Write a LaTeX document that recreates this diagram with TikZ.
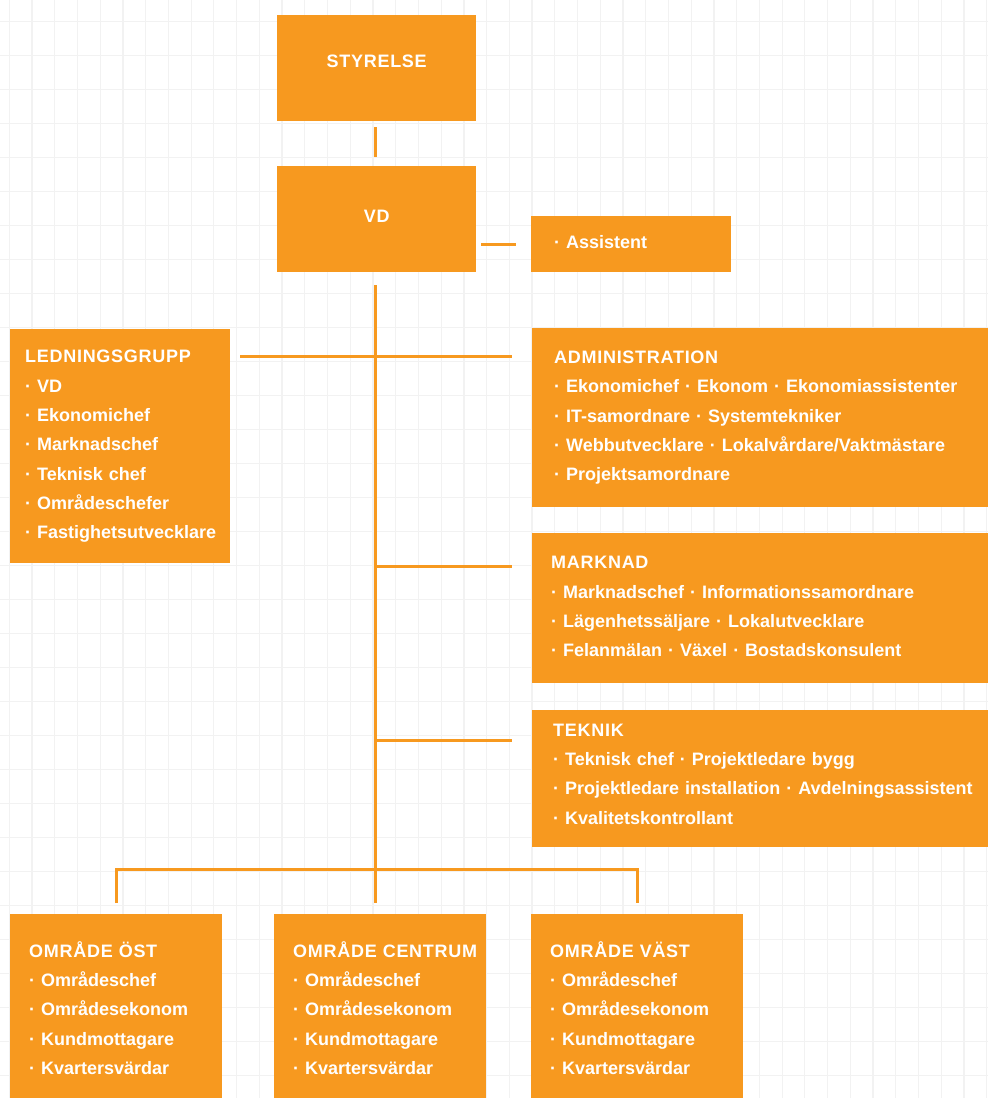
\documentclass[tikz,border=0pt]{standalone}
\usepackage{fontspec}
\setmainfont{Liberation Sans}
\newfontfamily\rubrikfont[LetterSpace=4]{Liberation Sans}
\usepackage{xcolor}
\usepackage{tikz}

\newcommand{\boxfont}{\fontsize{18}{29.3}\selectfont\bfseries\hyphenpenalty=10000\relax}
\newcommand{\rubrik}[1]{\rule[-4pt]{0pt}{17pt}\smash{\rubrikfont #1}}
\newcommand{\pkt}{\rule[-4pt]{0pt}{17pt}·~}

\begin{document}
\begin{tikzpicture}[x=1pt, y=-1pt,
  box/.style={fill=brand, text=white, anchor=north west, inner ysep=0pt, font=\boxfont},
  listbox/.style={box, align=left},
  link/.style={draw=brand, line width=3pt},
  gridline/.style={draw=rutnat, line width=1.2pt}]
% --- RUTNAT, ORANGE RUTOR OCH RAKA LINJER ---
\definecolor{brand}{HTML}{F7991F}
\definecolor{rutnat}{HTML}{F2F2F2}

\useasboundingbox (0,0) rectangle (988,1098);
\fill[white] (0,0) rectangle (988,1098);

% LAYER 1: Rutnat
\foreach \k in {0,...,43} \draw[gridline] ({9.3+22.73*\k},0) -- ({9.3+22.73*\k},1098);
\foreach \j in {0,...,31} \draw[gridline] (0,{21.7+34*\j}) -- (988,{21.7+34*\j});

% LAYER 2: Ledning
\node[box, minimum width=199, minimum height=106, text height=13pt, text depth=14pt] (styrelse) at (277,15) {\rubrik{STYRELSE}};
\node[box, minimum width=199, minimum height=106, text height=13pt, text depth=6pt] (vd) at (277,166) {\rubrik{VD}};
\node[listbox, text width=154, inner xsep=23, minimum height=56] (assistent) at (531,216) {\pkt Assistent};

% LAYER 3: Grupper och avdelningar
\node[listbox, text width=190, inner xsep=15, minimum height=234] (ledning) at (10,329) {\rubrik{LEDNINGSGRUPP}\\
  \pkt VD\\ \pkt Ekonomichef\\ \pkt Marknadschef\\ \pkt Teknisk chef\\ \pkt Områdeschefer\\ \pkt Fastighetsutvecklare};
\node[listbox, text width=500, inner xsep=22, minimum height=179] (admin) at (532,328) {\rubrik{ADMINISTRATION}\\
  \pkt Ekonomichef · Ekonom · Ekonomiassistenter\\
  \pkt IT-samordnare · Systemtekniker\\
  \pkt Webbutvecklare · Lokalvårdare/Vaktmästare\\
  \pkt Projektsamordnare};
\node[listbox, text width=500, inner xsep=19, minimum height=150] (marknad) at (532,533) {\rubrik{MARKNAD}\\
  \pkt Marknadschef · Informationssamordnare\\
  \pkt Lägenhetssäljare · Lokalutvecklare\\
  \pkt Felanmälan · Växel · Bostadskonsulent};
\node[listbox, text width=500, inner xsep=21, minimum height=137] (teknik) at (532,710) {\rubrik{TEKNIK}\\
  \pkt Teknisk chef · Projektledare bygg\\
  \pkt Projektledare installation · Avdelningsassistent\\
  \pkt Kvalitetskontrollant\rule[-10pt]{0pt}{0pt}}; % lite mer luft under

% LAYER 4: Omraden (rutorna fortsatter under kanten)
\node[listbox, text width=174, inner xsep=19, minimum height=194] (ost) at (10,914) {\rubrik{OMRÅDE ÖST}\\
  \pkt Områdeschef\\ \pkt Områdesekonom\\ \pkt Kundmottagare\\ \pkt Kvartersvärdar};
\node[listbox, text width=174, inner xsep=19, minimum height=194] (centrum) at (274,914) {\rubrik{OMRÅDE CENTRUM}\\
  \pkt Områdeschef\\ \pkt Områdesekonom\\ \pkt Kundmottagare\\ \pkt Kvartersvärdar};
\node[listbox, text width=174, inner xsep=19, minimum height=194] (vast) at (531,914) {\rubrik{OMRÅDE VÄST}\\
  \pkt Områdeschef\\ \pkt Områdesekonom\\ \pkt Kundmottagare\\ \pkt Kvartersvärdar};

% LAYER 5: Linjer med luft mot rutorna
\coordinate (stam) at (375,903); % stammens nedre ande
\coordinate (g1) at (375,356);
\coordinate (g2) at (375,566);
\coordinate (g3) at (375,740);
\coordinate (buss) at (375,869);
\draw[link, shorten <=6pt, shorten >=9pt] (styrelse.south -| stam) -- (vd.north -| stam);
\draw[link, shorten <=13pt] (vd.south -| stam) -- (stam);
\draw[link, shorten <=5pt, shorten >=15pt] (vd.east |- assistent.west) -- (assistent.west);
\draw[link, shorten <=10pt] (ledning.east |- g1) -- (g1);
\draw[link, shorten >=20pt] (g1) -- (admin.west |- g1);
\draw[link, shorten >=20pt] (g2) -- (marknad.west |- g2);
\draw[link, shorten >=20pt] (g3) -- (teknik.west |- g3);
\draw[link, shorten <=11pt, shorten >=11pt] (ost.north) |- (buss) -| (vast.north);
\end{tikzpicture}
\end{document}
